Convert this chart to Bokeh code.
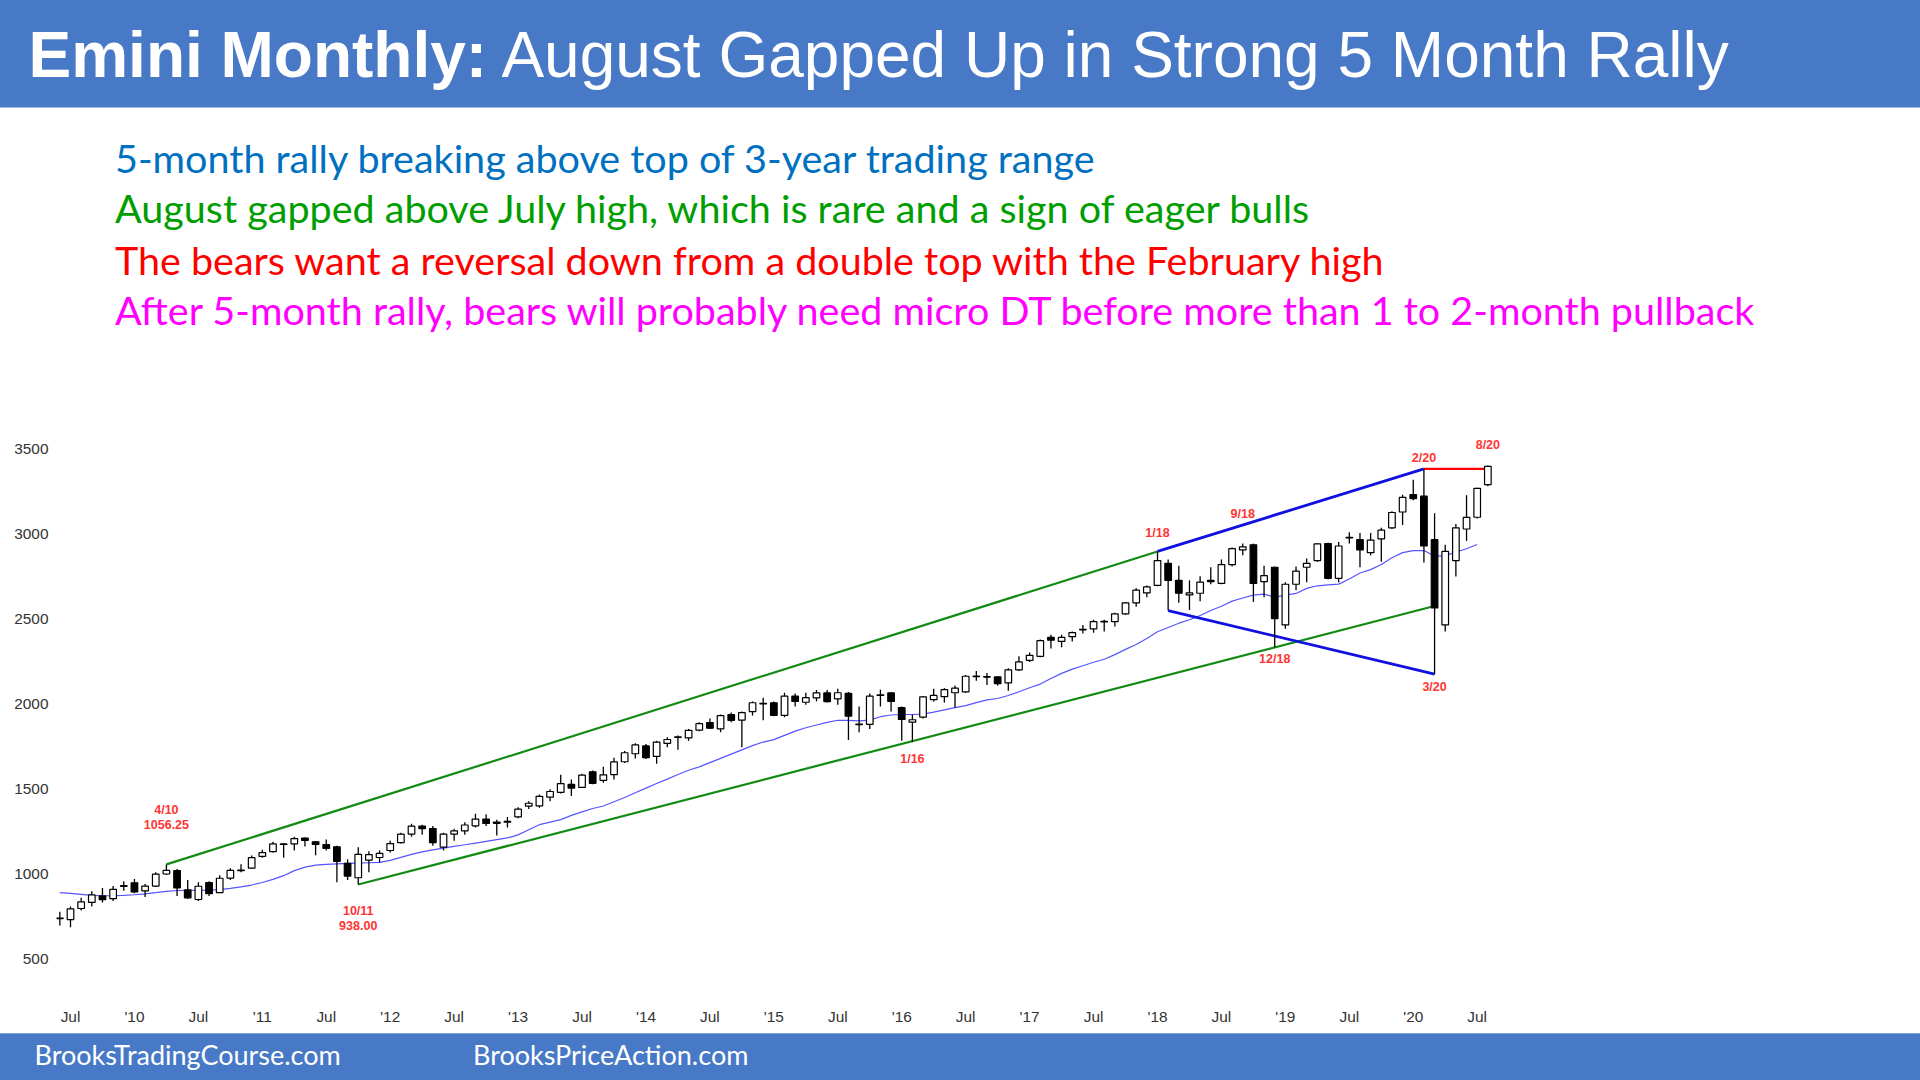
import pandas as pd
from bokeh.plotting import figure
from bokeh.layouts import column
from bokeh.models import Range1d, FixedTicker, ColumnDataSource, Div
from bokeh.core.properties import value
from bokeh.embed import file_html
from bokeh.resources import INLINE

# ---------------- data ----------------
months = pd.date_range("2009-06-01", "2020-08-01", freq="MS")

opens = [737, 732, 797, 833, 871, 855, 927, 948, 901, 929,
         1000, 1020, 906, 850, 950, 890, 976, 1019, 1034, 1103,
         1132, 1174, 1177, 1211, 1189, 1173, 1160, 1063, 978, 1082,
         1097, 1138, 1184, 1235, 1282, 1267, 1158, 1235, 1254, 1283,
         1323, 1298, 1305, 1336, 1399, 1400, 1452, 1480, 1527, 1509,
         1601, 1551, 1584, 1660, 1707, 1753, 1692, 1768, 1804, 1800,
         1846, 1891, 1854, 1937, 1905, 1955, 2004, 2007, 1933, 2046,
         2010, 2036, 2065, 2030, 2062, 1882, 1880, 2050, 2065, 1978,
         1893, 1922, 2025, 2043, 2066, 2071, 2161, 2161, 2159, 2124,
         2201, 2256, 2280, 2391, 2368, 2396, 2436, 2442, 2482, 2484,
         2530, 2595, 2653, 2697, 2827, 2727, 2641, 2651, 2720, 2709,
         2820, 2906, 2936, 2720, 2804, 2465, 2704, 2804, 2843, 2943,
         2739, 2976, 2966, 2890, 2971, 3036, 3129, 3231, 3222, 2966,
         2465, 2843, 3029, 3098, 3290]

highs = [778, 809, 860, 899, 918, 929, 957, 971, 941, 1010,
         1056.25, 1029, 964, 952, 957, 992, 1034, 1057, 1108, 1143,
         1189, 1180, 1219, 1215, 1194, 1203, 1166, 1087, 1157, 1133,
         1138, 1196, 1242, 1296, 1289, 1282, 1242, 1266, 1305, 1354,
         1351, 1319, 1335, 1393, 1428, 1467, 1498, 1583, 1556, 1590,
         1609, 1630, 1683, 1723, 1769, 1764, 1783, 1804, 1815, 1853,
         1892, 1915, 1938, 1950, 1955, 2015, 2036, 2015, 2066, 2061,
         2066, 2082, 2082, 2089, 2071, 1985, 2061, 2084, 2071, 1985,
         1938, 2047, 2089, 2093, 2108, 2170, 2194, 2182, 2163, 2210,
         2280, 2303, 2379, 2407, 2407, 2426, 2465, 2495, 2495, 2537,
         2600, 2681, 2697, 2897, 2850, 2813, 2727, 2751, 2804, 2850,
         2920, 2943, 2943, 2813, 2808, 2716, 2808, 2855, 2943, 2948,
         2952, 3010, 3006, 3006, 3036, 3133, 3231, 3319, 3383, 3122,
         2936, 3059, 3228, 3272, 3402]

lows = [697, 686, 785, 809, 832, 841, 901, 887, 864, 925,
        994, 871, 855, 841, 871, 890, 964, 1010, 1029, 1096,
        1126, 1096, 1138, 1161, 1110, 1138, 952, 964, 938, 1010,
        1068, 1126, 1180, 1219, 1231, 1166, 1138, 1196, 1231, 1273,
        1282, 1226, 1273, 1328, 1382, 1389, 1428, 1474, 1458, 1505,
        1528, 1537, 1556, 1653, 1679, 1676, 1648, 1746, 1730, 1783,
        1839, 1853, 1834, 1892, 1746, 1932, 1904, 1927, 1922, 1985,
        1996, 2015, 2008, 1996, 1788, 1834, 1853, 1985, 1955, 1783,
        1776, 1915, 2015, 2008, 1978, 2066, 2136, 2112, 2108, 2078,
        2194, 2247, 2275, 2326, 2333, 2368, 2414, 2419, 2426, 2456,
        2525, 2572, 2627, 2692, 2549, 2595, 2553, 2604, 2704, 2704,
        2808, 2874, 2600, 2628, 2333, 2442, 2669, 2716, 2836, 2734,
        2716, 2943, 2804, 2874, 2836, 3029, 3052, 3198, 2832, 2175,
        2426, 2750, 2959, 3091, 3280]

closes = [741, 795, 836, 877, 849, 910, 931, 894, 929, 999,
          1021, 918, 860, 928, 884, 975, 1021, 1023, 1096, 1126,
          1177, 1177, 1208, 1197, 1174, 1150, 1074, 988, 1115, 1114,
          1121, 1179, 1234, 1281, 1267, 1185, 1234, 1254, 1288, 1323,
          1297, 1305, 1309, 1381, 1416, 1457, 1485, 1531, 1505, 1582,
          1533, 1583, 1659, 1713, 1759, 1684, 1776, 1791, 1807, 1845,
          1884, 1857, 1931, 1904, 1949, 2007, 2000, 1933, 2046, 2015,
          2037, 2065, 2014, 2066, 1928, 1879, 2046, 2054, 2015, 1909,
          1907, 2042, 2050, 2084, 2093, 2163, 2164, 2158, 2120, 2200,
          2247, 2286, 2372, 2375, 2391, 2419, 2439, 2484, 2486, 2530,
          2595, 2669, 2688, 2843, 2727, 2651, 2653, 2716, 2727, 2820,
          2913, 2924, 2709, 2755, 2502, 2704, 2781, 2827, 2941, 2739,
          2929, 2980, 2906, 2964, 3022, 3126, 3215, 3208, 2929, 2565,
          2897, 3036, 3097, 3268, 3397]

# moving average (Jun 2009 .. Jul 2020)
ma_line = [890, 886, 880, 874, 872, 872, 874, 878, 883, 890,
           898, 903, 904, 904, 905, 908, 915, 924, 935, 950,
           968, 990, 1020, 1040, 1052, 1057, 1060, 1062, 1064, 1066,
           1068, 1080, 1098, 1115, 1130, 1142, 1152, 1162, 1172, 1182,
           1192, 1202, 1212, 1230, 1260, 1290, 1305, 1320, 1345, 1365,
           1385, 1400, 1425, 1450, 1478, 1505, 1532, 1558, 1585, 1610,
           1630, 1655, 1680, 1705, 1730, 1755, 1776, 1790, 1815, 1840,
           1860, 1876, 1892, 1904, 1904, 1900, 1905, 1925, 1935, 1938,
           1938, 1940, 1952, 1965, 1978, 1990, 2008, 2024, 2032, 2050,
           2072, 2095, 2117, 2150, 2180, 2205, 2225, 2245, 2263, 2290,
           2321, 2350, 2385, 2425, 2450, 2475, 2495, 2520, 2550, 2575,
           2605, 2623, 2640, 2646, 2628, 2640, 2650, 2680, 2695, 2700,
           2705, 2735, 2770, 2790, 2820, 2860, 2890, 2902, 2902, 2870,
           2872, 2893, 2913, 2938]

y_ticks = [500, 1000, 1500, 2000, 2500, 3000, 3500]

ann_text = ["4/10", "1056.25", "10/11", "938.00", "1/16", "1/18", "9/18",
            "12/18", "2/20", "3/20", "8/20"]
ann_idx = [10, 10, 28, 28, 80, 103, 111, 114, 128, 129, 134]
ann_val = [1377, 1289, 783, 697, 1679, 3006, 3115, 2266, 3448, 2101, 3524]

title_bold = "Emini Monthly:"
title_rest = "August Gapped Up in Strong 5 Month Rally"
sub_lines = ["5-month rally breaking above top of 3-year trading range",
             "August gapped above July high, which is rare and a sign of eager bulls",
             "The bears want a reversal down from a double top with the February high",
             "After 5-month rally, bears will probably need micro DT before more than 1 to 2-month pullback"]
sub_colors = ["#0070C0", "#009E00", "#FF0000", "#FF00FF"]
footer_texts = ["BrooksTradingCourse.com", "BrooksPriceAction.com"]

BAND = "#4779C6"
W = 1920
HDR_H, CH_H, FTR_H = 340, 692, 48

# ---------------- header (inline SVG text) ----------------
sub_baselines = [173.3, 222.7, 275, 325]
hdr_svg = (
    f'<svg xmlns="http://www.w3.org/2000/svg" width="{W}" height="{HDR_H}" style="display:block">'
    f'<rect x="0" y="0" width="{W}" height="107.5" fill="{BAND}"/>'
    f'<text x="28.5" y="77.3" style="font-family:\'Liberation Sans\',Arial,sans-serif;'
    f'font-size:64px;fill:#ffffff">'
    f'<tspan style="font-weight:bold">{title_bold}</tspan> {title_rest}</text>'
)
for txt, col, yb in zip(sub_lines, sub_colors, sub_baselines):
    hdr_svg += (f'<text x="115" y="{yb}" style="font-family:Lato,sans-serif;'
                f'font-size:39.5px;fill:{col}">{txt}</text>')
hdr_svg += '</svg>'
hdr = Div(text=hdr_svg, width=W, height=HDR_H, margin=0)

# ---------------- chart ----------------
PX_PER_UNIT = 0.17003
PX_PER_MONTH = 10.6568
TOP0 = HDR_H
FT, FB, FL, FR = 345, 1000, 56, 1920
y0 = 500 - (FB - 958.5) / PX_PER_UNIT
y1 = 500 + (958.5 - FT) / PX_PER_UNIT
x0 = 1 + (FL - 70) / PX_PER_MONTH
x1 = 1 + (FR - 70) / PX_PER_MONTH

p = figure(width=W, height=CH_H, x_range=Range1d(x0, x1), y_range=Range1d(y0, y1),
           output_backend="svg", toolbar_location=None,
           min_border_left=FL, min_border_right=0, min_border_top=FT - TOP0,
           min_border_bottom=TOP0 + CH_H - FB, outline_line_color=None)
p.grid.visible = False

idx = list(range(len(months)))
src = ColumnDataSource(dict(
    x=idx, o=opens, h=highs, l=lows, c=closes,
    top=[max(a, b) for a, b in zip(opens, closes)],
    bottom=[min(a, b) for a, b in zip(opens, closes)],
    fill=["white" if c >= o else "black" for o, c in zip(opens, closes)]))

# moving average
p.line(idx[:len(ma_line)], ma_line, line_color="#5555FF", line_width=1.2)

# channel / trend lines built from the bars' extremes
i_a, i_b = 10, 103
p.line([i_a, i_b], [highs[i_a], highs[i_b]], line_color="#138A13", line_width=2.2)
i_c, i_d, i_e = 28, 114, 129
slope = (lows[i_d] - lows[i_c]) / (i_d - i_c)
p.line([i_c, i_e], [lows[i_c], lows[i_c] + slope * (i_e - i_c)], line_color="#138A13", line_width=2.2)
i_f = 128
p.line([i_b, i_f], [highs[i_b], highs[i_f]], line_color="#1010E0", line_width=2.8)
i_g = 104
p.line([i_g, i_e], [lows[i_g], lows[i_e]], line_color="#1010E0", line_width=2.8)
p.line([i_f, len(months) - 1], [highs[i_f], highs[i_f]], line_color="#FF0000", line_width=2.2)

# candles
p.segment(x0="x", y0="l", x1="x", y1="h", line_color="black", line_width=1.3, source=src)
p.vbar(x="x", width=0.62, top="top", bottom="bottom", fill_color="fill",
       line_color="black", line_width=1.2, source=src)

# annotations
p.text(x=ann_idx, y=ann_val, text=ann_text, text_color="#FF3333",
       text_font=value("Liberation Sans"), text_font_size="12.5px", text_font_style="bold",
       text_align="center", text_baseline="middle")

# axes
tick_idx = [i for i, m in enumerate(months) if m.month in (1, 7)]
tick_lbl = {i: ("Jul" if months[i].month == 7 else "'" + str(months[i].year)[2:]) for i in tick_idx}
p.xaxis.ticker = FixedTicker(ticks=tick_idx)
p.xaxis.major_label_overrides = tick_lbl
p.yaxis.ticker = FixedTicker(ticks=y_ticks)
for ax in (p.xaxis, p.yaxis):
    ax.axis_line_color = None
    ax.major_tick_line_color = None
    ax.minor_tick_line_color = None
    ax.major_tick_out = 0
    ax.major_tick_in = 0
    ax.minor_tick_out = 0
    ax.major_label_text_font = "Liberation Sans"
    ax.major_label_text_font_size = "15.4px"
    ax.major_label_text_color = "#333333"
p.xaxis.major_label_standoff = 7
p.yaxis.major_label_standoff = 8

# ---------------- footer (inline SVG text) ----------------
ftr_svg = (
    f'<svg xmlns="http://www.w3.org/2000/svg" width="{W}" height="{FTR_H}" style="display:block">'
    f'<rect x="0" y="1.3" width="{W}" height="{FTR_H}" fill="{BAND}"/>'
    f'<text x="34.5" y="33" style="font-family:Lato,sans-serif;font-size:27px;fill:#ffffff">{footer_texts[0]}</text>'
    f'<text x="473" y="33" style="font-family:Lato,sans-serif;font-size:27px;fill:#ffffff">{footer_texts[1]}</text>'
    '</svg>'
)
ftr = Div(text=ftr_svg, width=W, height=FTR_H, margin=0)

layout = column(hdr, p, ftr, spacing=0)
open("out.html", "w").write(file_html(layout, INLINE))
